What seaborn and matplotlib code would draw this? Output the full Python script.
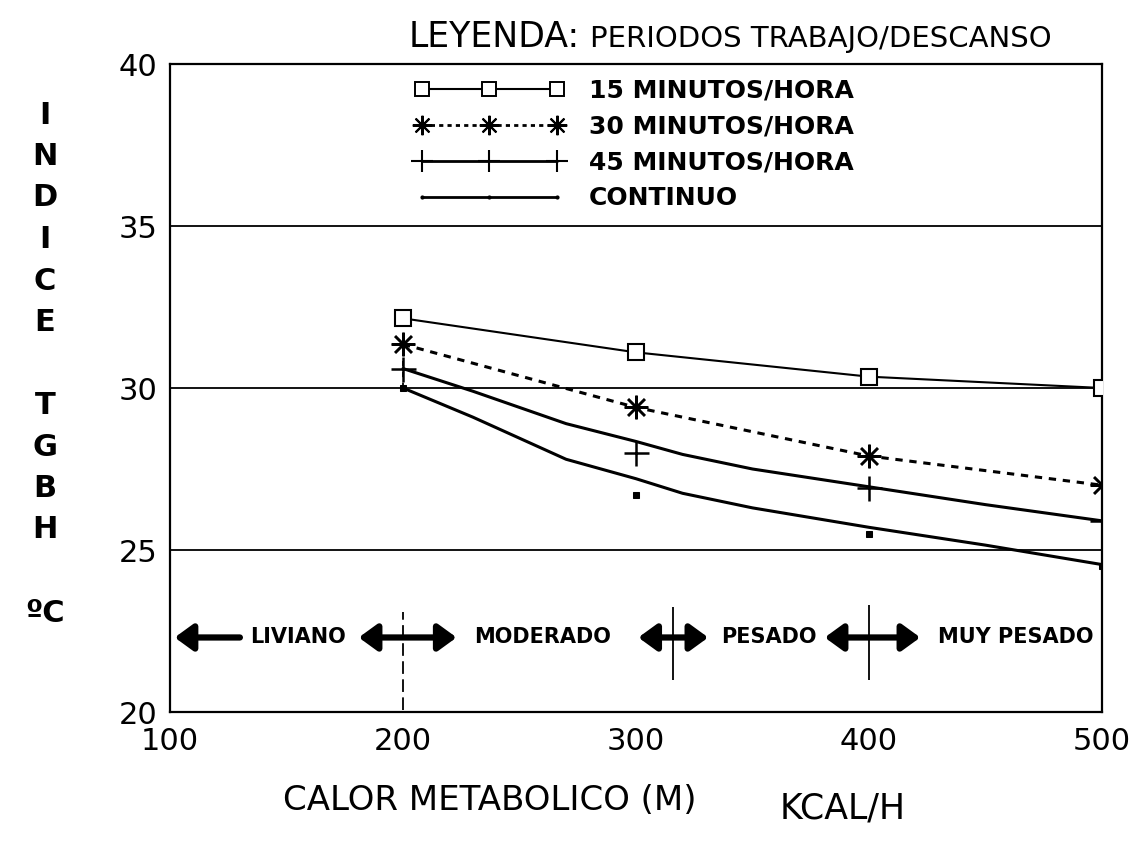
import matplotlib
matplotlib.use("Agg")
import matplotlib.pyplot as plt
from matplotlib.lines import Line2D
import seaborn as sns

# ---------------- data ----------------
x_pts = [200, 300, 400, 500]                      # marker positions (kcal/h)
m15 = [32.15, 31.1, 30.35, 30.0]                  # 15 minutos/hora
m30 = [31.35, 29.4, 27.9, 27.0]                   # 30 minutos/hora
m45 = [30.6, 28.0, 26.9, 25.9]                    # 45 minutos/hora (markers)
mcont = [30.0, 26.7, 25.5, 24.5]                  # continuo (markers)

x_curve = [200, 230, 270, 300, 320, 350, 400, 450, 500]
c45 = [30.6, 29.9, 28.9, 28.35, 27.95, 27.5, 26.95, 26.4, 25.9]      # drawn curve 45 min
c_cont = [30.0, 29.1, 27.8, 27.2, 26.75, 26.3, 25.7, 25.15, 24.55]   # drawn curve continuo

series_labels = ["15 MINUTOS/HORA", "30 MINUTOS/HORA", "45 MINUTOS/HORA", "CONTINUO"]

x_ticks = [100, 200, 300, 400, 500]
y_ticks = [20, 25, 30, 35, 40]

zone_labels = ["LIVIANO", "MODERADO", "PESADO", "MUY PESADO"]
zone_label_x = [155, 260, 357, 463]
zone_y = 22.3
single_arrow = (130, 102)                          # from, to
double_arrows = [(181, 223), (301, 331), (381, 422)]
divider_x = [200, 316, 400]
divider_y0 = [20.05, 21.0, 21.0]
divider_y1 = [23.1, 23.25, 23.3]

ylabel_letters = ["I", "N", "D", "I", "C", "E", "", "T", "G", "B", "H", "", "ºC"]

# ---------------- style ----------------
sns.set_theme(style="white")
plt.rcParams["font.family"] = ["DejaVu Sans"]
plt.rcParams["text.color"] = "black"

W, H = 1139, 846
fig = plt.figure(figsize=(W / 100, H / 100), dpi=100)
ax = fig.add_axes([170 / W, 1 - 712 / H, (1102 - 170) / W, (712 - 64) / H])

K = "black"
dash30 = (0, (2.4, 2.2))
ast = (8, 2, 0)

# 15 min
sns.lineplot(x=x_pts, y=m15, ax=ax, color=K, lw=1.5, marker="s", markersize=12,
             markerfacecolor="white", markeredgecolor=K, markeredgewidth=1.5,
             errorbar=None, zorder=4)
# 30 min
sns.lineplot(x=x_pts, y=m30, ax=ax, color=K, lw=2.2, linestyle=dash30, marker=ast,
             markersize=17, markeredgewidth=1.8, markeredgecolor=K, errorbar=None, zorder=4)
ax.vlines(x_pts[0], mcont[0], m30[0], colors=K, linestyles=[(0, (3, 3))], lw=1.3)
# 45 min
sns.lineplot(x=x_curve, y=c45, ax=ax, color=K, lw=2.2, errorbar=None, zorder=3)
sns.lineplot(x=x_pts, y=m45, ax=ax, color=K, linestyle="none", marker="+",
             markersize=18, markeredgewidth=1.8, markeredgecolor=K, errorbar=None, zorder=4)
# continuo
sns.lineplot(x=x_curve, y=c_cont, ax=ax, color=K, lw=2.2, errorbar=None, zorder=3)
sns.lineplot(x=x_pts, y=mcont, ax=ax, color=K, linestyle="none", marker="s",
             markersize=5, markerfacecolor=K, markeredgecolor=K, errorbar=None, zorder=4)

# axes
ax.set_xlim(x_ticks[0], x_ticks[-1])
ax.set_ylim(y_ticks[0], y_ticks[-1])
ax.set_xticks(x_ticks)
ax.set_yticks(y_ticks)
ax.set_xticklabels([str(v) for v in x_ticks])
ax.set_yticklabels([str(v) for v in y_ticks])
ax.grid(False)
for yv in y_ticks[1:-1]:
    ax.axhline(yv, color=K, lw=1.3, zorder=1)
for s in ax.spines.values():
    s.set_visible(True)
    s.set_color(K)
    s.set_linewidth(1.6)
ax.tick_params(axis="x", direction="in", length=9, width=1.3, color=K,
               labelsize=22, pad=11, labelcolor=K)
ax.tick_params(axis="y", length=0, labelsize=22, pad=9, labelcolor=K)
ax.set_xlabel("")
ax.set_ylabel("")

# dividers and workload zones
ax.vlines(divider_x, divider_y0, divider_y1, colors=K,
          linestyles=[(0, (7, 3)), "-", "-"], lw=1.3)
ax.annotate("", xy=(single_arrow[1], zone_y), xytext=(single_arrow[0], zone_y),
            arrowprops=dict(arrowstyle="-|>,head_length=0.55,head_width=0.4", lw=4.5,
                            color=K, mutation_scale=20, shrinkA=0, shrinkB=0))
for a, b in double_arrows:
    ax.annotate("", xy=(b, zone_y), xytext=(a, zone_y),
                arrowprops=dict(arrowstyle="<|-|>,head_length=0.55,head_width=0.4", lw=4.5,
                                color=K, mutation_scale=20, shrinkA=0, shrinkB=0))
for lab, xv in zip(zone_labels, zone_label_x):
    ax.text(xv, zone_y, lab, ha="center", va="center", fontsize=15,
            fontweight="bold", color=K)

# legend
handles = [
    Line2D([], [], color=K, lw=1.5, marker="s", markersize=10, markerfacecolor="white",
           markeredgecolor=K, markeredgewidth=1.4),
    Line2D([], [], color=K, lw=2.0, linestyle=(0, (1.5, 1.5)), marker=ast, markersize=14,
           markeredgewidth=1.5, markeredgecolor=K),
    Line2D([], [], color=K, lw=2.0, marker="+", markersize=16, markeredgewidth=1.5,
           markeredgecolor=K),
    Line2D([], [], color=K, lw=2.0, marker=".", markersize=4, markeredgecolor=K),
]
ax.legend(handles, series_labels, loc="upper left", bbox_to_anchor=(0.262, 0.978),
          frameon=False, numpoints=3, handlelength=6.0, handletextpad=1.0,
          labelspacing=0.48, borderpad=0, borderaxespad=0, labelcolor=K,
          prop=dict(weight="bold", size=18))

# legend title (two sizes)
t1 = fig.text(409 / W, 1 - 47 / H, "LEYENDA:", fontsize=25, va="baseline", ha="left", color=K)
fig.canvas.draw()
bb = t1.get_window_extent()
fig.text((bb.x1 + 10) / W, 1 - 47 / H, "PERIODOS TRABAJO/DESCANSO", fontsize=21,
         va="baseline", ha="left", color=K)

# y label (stacked letters)
for i, ch in enumerate(ylabel_letters):
    if ch:
        fig.text(45 / W, 1 - (115 + i * 41.5) / H, ch, fontsize=22, fontweight="bold",
                 ha="center", va="center", color=K)

# x label
fig.text(490 / W, 1 - 800 / H, "CALOR METABOLICO (M)", fontsize=24.5, ha="center",
         va="center", color=K)
fig.text(843 / W, 1 - 808 / H, "KCAL/H", fontsize=25, ha="center", va="center", color=K)

fig.savefig("out.png", dpi=100, facecolor="white")
